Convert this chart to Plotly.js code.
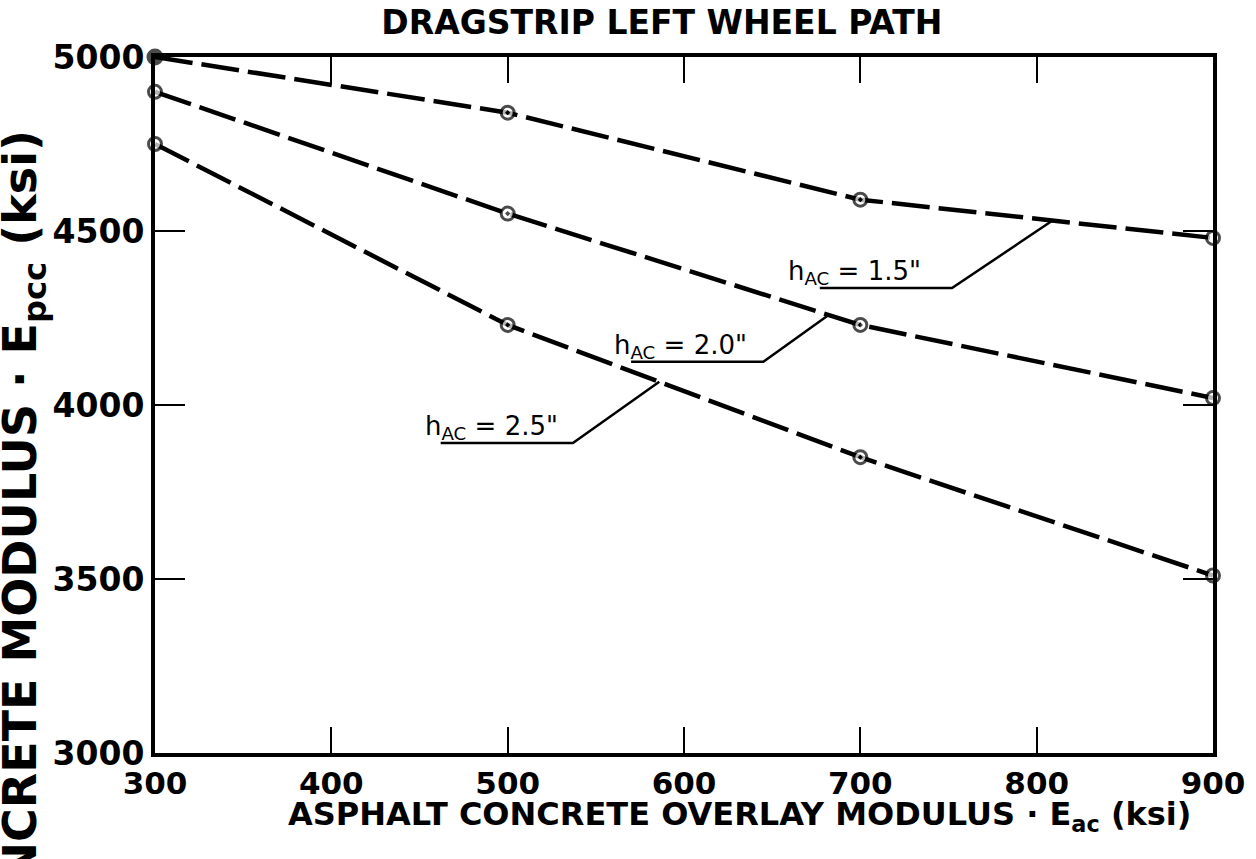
<!DOCTYPE html>
<html>
<head>
<meta charset="utf-8">
<script src="https://cdn.plot.ly/plotly-3.0.1.min.js"></script>
<style>
  html, body { margin: 0; padding: 0; background: #fff; }
  #chart { width: 1256px; height: 859px; }
</style>
</head>
<body>
<div id="chart"></div>
<script>
// ---- data ----
const eac = [300, 500, 700, 900];              // asphalt overlay modulus (ksi)
const epcc_h15 = [5000, 4840, 4590, 4480];     // h_AC = 1.5"
const epcc_h20 = [4900, 4550, 4230, 4020];     // h_AC = 2.0"
const epcc_h25 = [4750, 4230, 3850, 3510];     // h_AC = 2.5"
const xTickVals = [300, 400, 500, 600, 700, 800, 900];
const yTickVals = [3000, 3500, 4000, 4500, 5000];
const seriesNames = ['h<sub>AC</sub> = 1.5"', 'h<sub>AC</sub> = 2.0"', 'h<sub>AC</sub> = 2.5"'];

const FONT = '"DejaVu Sans", "Liberation Sans", sans-serif';

function interp(xs, ys, x) {
  for (let i = 0; i < xs.length - 1; i++) {
    if (x >= xs[i] && x <= xs[i + 1]) {
      const t = (x - xs[i]) / (xs[i + 1] - xs[i]);
      return ys[i] + t * (ys[i + 1] - ys[i]);
    }
  }
  return ys[ys.length - 1];
}

const allSeries = [epcc_h15, epcc_h20, epcc_h25];

// marker styling per point position (style, not data)
function markerStyle(first) {
  return {
    symbol: ['circle', 'circle-dot', 'circle-dot', 'circle'],
    size: [first ? 14 : 13, 13, 13, 13],
    color: [first ? '#000' : '#fff', '#fff', '#fff', '#fff'],
    line: { color: '#000', width: 3 }
  };
}

const traces = allSeries.map((ys, i) => ({
  x: eac, y: ys, type: 'scatter', mode: 'lines+markers',
  name: seriesNames[i],
  line: { color: '#000', width: 4.5, dash: '38px,9px' },
  marker: markerStyle(i === 0),
  cliponaxis: false,
  showlegend: false,
  hoverinfo: 'x+y'
}));

// label placement (layout positions)
const labelCfg = [
  { textX: 658, ulX0: 677, ulX1: 752, endX: 809, ulY: 4336 },
  { textX: 559, ulX0: 570, ulX1: 645, endX: 682, ulY: 4124 },
  { textX: 452, ulX0: 462, ulX1: 537, endX: 586, ulY: 3891 }
];

const shapes = [];
const annotations = [];
labelCfg.forEach((c, i) => {
  const yEnd = interp(eac, allSeries[i], c.endX);
  shapes.push({
    type: 'path', xref: 'x', yref: 'y',
    path: `M ${c.ulX0},${c.ulY} L ${c.ulX1},${c.ulY} L ${c.endX},${yEnd}`,
    line: { color: '#000', width: 2.5 }
  });
  annotations.push({
    xref: 'x', yref: 'y', x: c.textX, y: c.ulY,
    xanchor: 'left', yanchor: 'bottom', yshift: -3,
    text: seriesNames[i], showarrow: false,
    font: { family: FONT, size: 26, color: '#000' }
  });
});

// axis titles as annotations
annotations.push({
  xref: 'paper', yref: 'paper', x: 0.552, y: -0.09,
  xanchor: 'center', yanchor: 'middle', showarrow: false,
  text: 'ASPHALT CONCRETE OVERLAY MODULUS · E<sub>ac</sub> (ksi)',
  font: { family: FONT, size: 32, color: '#000', weight: 'bold' }
});
annotations.push({
  xref: 'paper', yref: 'paper', x: -0.124, y: 0.898,
  xanchor: 'center', yanchor: 'top', showarrow: false, textangle: -90,
  text: 'CONCRETE MODULUS · E<sub>pcc</sub> (ksi)',
  font: { family: FONT, size: 46, color: '#000', weight: 'bold' }
});

const layout = {
  width: 1256, height: 859,
  paper_bgcolor: '#fff', plot_bgcolor: '#fff',
  margin: { l: 155, r: 43, t: 57, b: 106 },
  title: {
    text: 'DRAGSTRIP LEFT WHEEL PATH',
    x: 0.527, xanchor: 'center', xref: 'container',
    y: 0.974, yanchor: 'middle',
    font: { family: FONT, size: 33, color: '#000', weight: 'bold' }
  },
  xaxis: {
    range: [300, 900], tickvals: xTickVals, ticktext: xTickVals.map(String),
    ticks: 'inside', ticklen: 26, tickwidth: 2, tickcolor: '#000',
    showline: true, linewidth: 4, linecolor: '#000', mirror: 'ticks',
    showgrid: false, zeroline: false,
    tickfont: { family: FONT, size: 31, color: '#000', weight: 'bold' }
  },
  yaxis: {
    range: [3000, 5000], tickvals: yTickVals, ticktext: yTickVals.map(String),
    ticks: 'inside', ticklen: 30, tickwidth: 2.5, tickcolor: '#000',
    showline: true, linewidth: 4, linecolor: '#000', mirror: 'ticks',
    showgrid: false, zeroline: false,
    tickfont: { family: FONT, size: 33, color: '#000', weight: 'bold' }
  },
  shapes: shapes,
  annotations: annotations
};

Plotly.newPlot('chart', traces, layout, { displayModeBar: false, staticPlot: true });
</script>
</body>
</html>
